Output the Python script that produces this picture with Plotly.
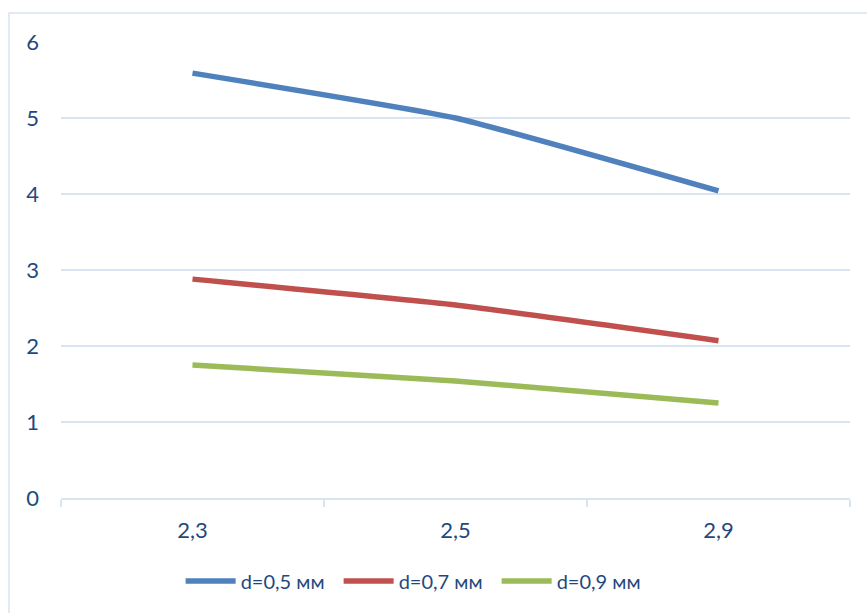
import plotly.graph_objects as go

# Categories (comma decimal separator) and series values
categories = ["2,3", "2,5", "2,9"]
d05 = [5.59, 5.00, 4.04]
d07 = [2.88, 2.54, 2.07]
d09 = [1.75, 1.54, 1.25]
series_names = ["d=0,5 мм", "d=0,7 мм", "d=0,9 мм"]
y_ticks = [0, 1, 2, 3, 4, 5, 6]

colors = ["#4F81BD", "#C0504D", "#9BBB59"]
text_color = "#1F497D"
grid_color = "#D9E4F2"
font_family = "Lato, 'Open Sans', sans-serif"

fig = go.Figure()
for name, vals, col in zip(series_names, [d05, d07, d09], colors):
    fig.add_trace(go.Scatter(
        x=categories, y=vals, name=name, mode="lines",
        line=dict(color=col, width=5.5, shape="spline", smoothing=0.4),
    ))

W, H = 867, 613
ml, mr, mt, mb = 61, 17, 42, 115
pw, ph = W - ml - mr, H - mt - mb

# outer chart frame (continues past the right and bottom edges)
fig.add_shape(
    type="rect", xref="paper", yref="paper",
    x0=(9 - ml) / pw, x1=(W + 10 - ml) / pw,
    y0=-(H + 10 - mt - ph) / ph, y1=(ph + mt - 13) / ph,
    line=dict(color=grid_color, width=1.5), fillcolor="rgba(0,0,0,0)",
    layer="below",
)

tick_font = dict(family=font_family, size=22, color=text_color)

fig.update_layout(
    width=W, height=H,
    margin=dict(l=ml, r=mr, t=mt, b=mb),
    paper_bgcolor="white", plot_bgcolor="white",
    font=dict(family=font_family, size=20, color=text_color),
    showlegend=True,
    legend=dict(
        orientation="h", x=0.452, xanchor="center", y=-0.182, yanchor="middle",
        font=dict(family=font_family, size=20, color=text_color), itemwidth=50,
        entrywidth=93, entrywidthmode="pixels",
        traceorder="normal",
    ),
    xaxis=dict(
        type="category", categoryorder="array", categoryarray=categories,
        showgrid=False, showline=True, linecolor=grid_color, linewidth=1.5,
        ticks="outside", tickson="boundaries", ticklen=7, tickcolor=grid_color,
        tickwidth=1.5, ticklabelstandoff=12, zeroline=False,
        range=[-0.5, 2.5], tickfont=tick_font,
    ),
    yaxis=dict(
        range=[0, 6], tickvals=y_ticks, showgrid=True, gridcolor=grid_color,
        gridwidth=1.5, zeroline=False, showline=False, ticks="",
        ticklabelstandoff=21, tickfont=tick_font,
    ),
)

fig.write_html("out.html")
